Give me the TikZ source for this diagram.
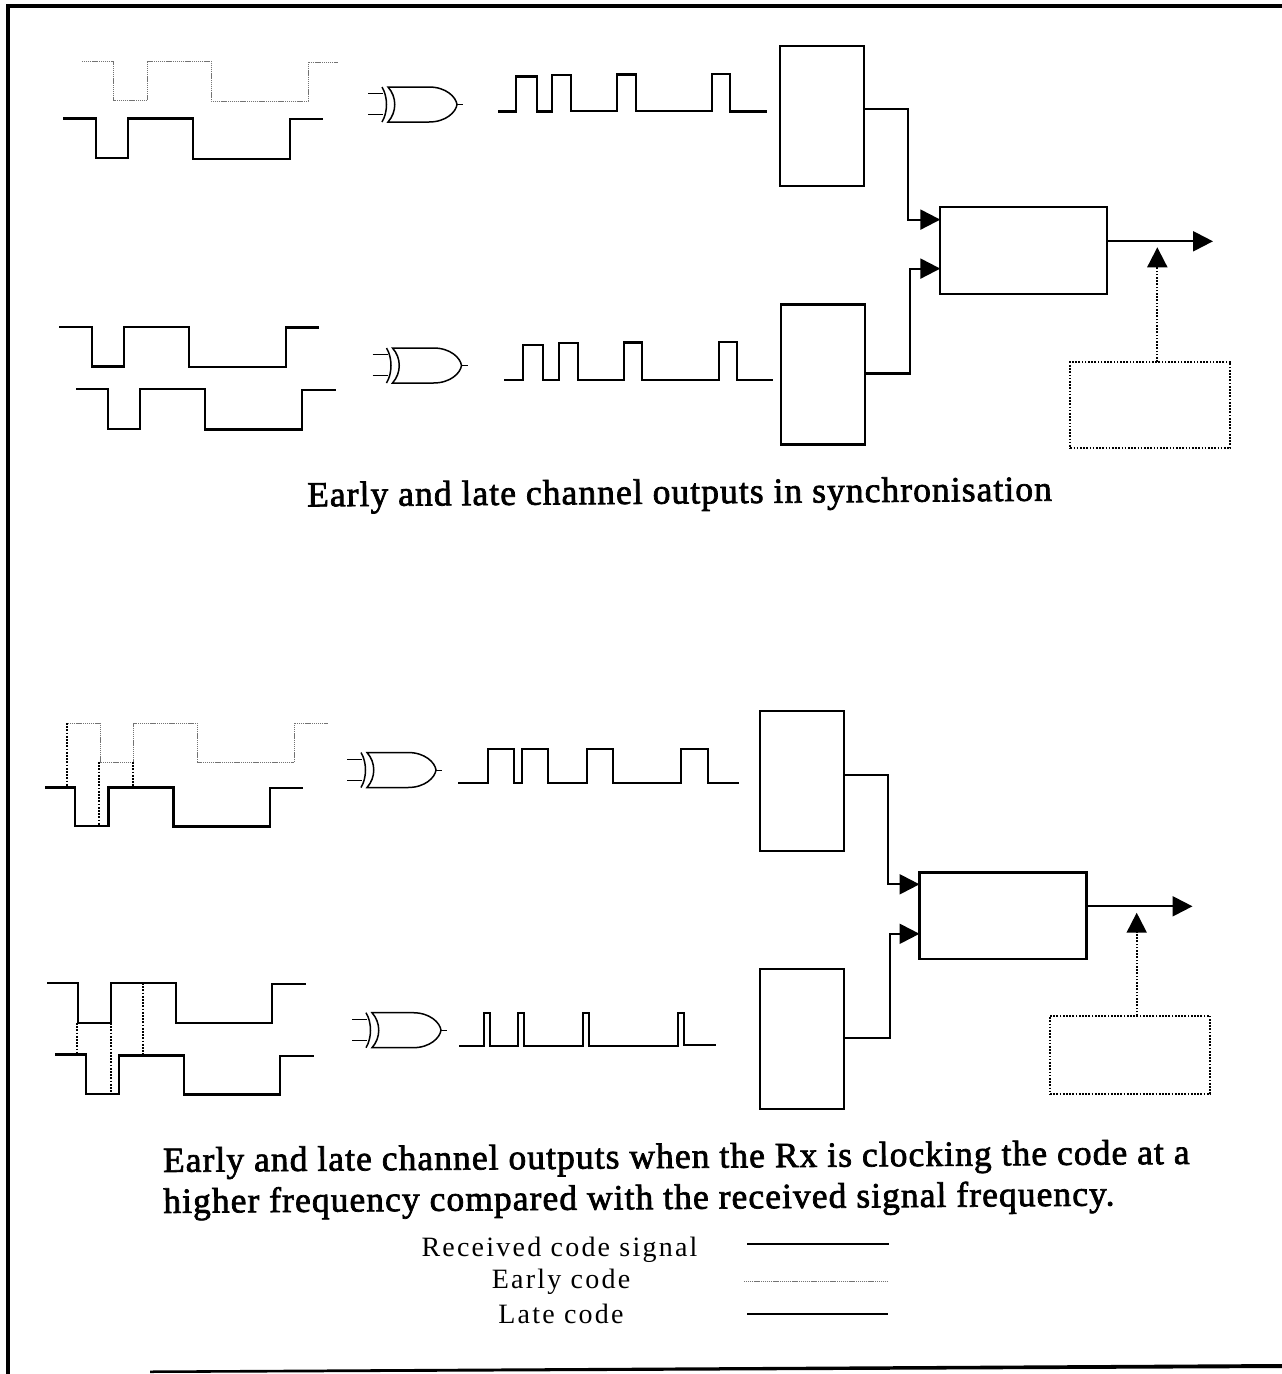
\documentclass[tikz,border=0pt]{standalone}
\usepackage{fontspec}
\setmainfont{Liberation Serif}
\newfontfamily\capfont[FakeBold=2, LetterSpace=3]{Liberation Serif}
\usetikzlibrary{positioning,arrows.meta}

\tikzset{xorgate/.pic={
  \draw[line width=1pt] (-20,6.5) -- (-5,6.5) (-20,27.5) -- (-5,27.5) (69,17.5) -- (75,17.5);
  \draw[line width=1.5pt] (-6,0) .. controls (0,10) and (0,25) .. (-6,35);
  \draw[line width=1.5pt] (0,0) .. controls (9,10) and (9,25) .. (0,35) -- (41,35)
    .. controls (58,35) and (68,25) .. (69,17.5) .. controls (68,10) and (58,0) .. (41,0) -- cycle;
}}

\begin{document}
\begin{tikzpicture}[x=1pt, y=-1pt]
  \tikzstyle{block} = [rectangle, draw, line width=2.2pt, outer sep=0pt, minimum width=84pt, minimum height=140pt]
  \tikzstyle{mixer} = [rectangle, draw, line width=2.2pt, outer sep=0pt, minimum width=167pt, minimum height=86.5pt]
  \tikzstyle{clock} = [rectangle, draw, line width=2pt, dash pattern=on 1.7pt off 1.5pt, outer sep=0pt, minimum width=160pt]
  \tikzstyle{wire} = [line width=2.2pt]
  \tikzstyle{feed} = [wire, -{Triangle[length=20pt, width=20pt]}]
  \tikzstyle{tick} = [line width=2pt, dash pattern=on 1.7pt off 1.5pt, -{Triangle[length=20pt, width=20pt]}]
  \tikzstyle{rxcode} = [line width=2.6pt]
  \tikzstyle{latecode} = [line width=2.2pt]
  \tikzstyle{earlycode} = [line width=1pt, black!55, dash pattern=on 1.2pt off 0.7pt]
  \tikzstyle{guide} = [line width=2pt, dash pattern=on 1.7pt off 1.5pt]
  \tikzstyle{pulse} = [line width=2.1pt]
  \tikzstyle{legendtext} = [inner sep=0pt, anchor=base, font=\fontsize{28}{32}\selectfont\addfontfeature{LetterSpace=8}]
  \tikzstyle{caption} = [inner sep=0pt, font=\capfont\fontsize{35.5}{41}\selectfont, rotate=0.45]

  \useasboundingbox (0,0) rectangle (1282,1374);

  % Frame
  \fill (6,4) rectangle (10,1374);
  \fill (6,4) rectangle (1282,8);
  \fill (150,1370.5) -- (1282,1364) -- (1282,1368) -- (150,1373) -- cycle;

  % Define nodes
  \node[block] (chan1) at (822,115.8) {};
  \node[block, below=118.6pt of chan1, xshift=1pt] (chan2) {};
  \node[mixer] (mix1) at (1023.8,250.6) {};
  \node[clock, minimum height=86.5pt, below=68pt of mix1, xshift=126.5pt] (clk1) {};
  \node[block] (chan3) at (801.8,780.7) {};
  \node[block, below=118.6pt of chan3] (chan4) {};
  \node[mixer] (mix2) at (1003,915.8) {};
  \node[clock, minimum height=78.5pt, below=56.6pt of mix2, xshift=127pt] (clk2) {};

  \coordinate (out1) at (1213,241.3);
  \coordinate (out2) at (1192.5,906.3);
  \coordinate (tick1) at (1157.3,247.3);
  \coordinate (tick2) at (1136.7,912.7);

  % In synchronisation
  \draw[earlycode] (82,61) -| (113,100) -| (147,61) -| (211,101) -| (308,62) -- (338,62);
  \draw[rxcode] (63,118.5) -| (96,158) -| (128,118.5) -| (193,159) -| (290,119) -- (323,119);
  \draw[latecode] (59,327) -| (92,366.5) -| (124,327) -| (189,367) -| (286,327.5) -- (319,327.5);
  \draw[rxcode] (76,389) -| (108,429) -| (140,389) -| (205,429.3) -| (302,390) -- (336,390);
  \pic at (388,87) {xorgate};
  \pic at (392.5,348) {xorgate};
  \draw[pulse] (498,111.5) -| (516,76.5) -| (537,111.5) -| (552,75) -| (571,111) -| (617,74.5) -| (636,111) -| (712,74) -| (730,111.5) -- (767,111.5);
  \draw[pulse] (504,380) -| (523,345) -| (543,380) -| (559,343) -| (578,380) -| (624,342.5) -| (642,380) -| (719,342) -| (737,380) -- (773,380);
  \draw[feed] ([yshift=7pt]chan1.east) -- ++(44,0) |- ([yshift=31pt]mix1.west);
  \draw[feed] ([yshift=1pt]chan2.east) -- ++(45,0) |- ([yshift=-18pt]mix1.west);
  \draw[feed] (mix1.east |- out1) -- (out1);
  \draw[tick] (clk1.north -| tick1) -- (tick1);

  % Rx clock too fast
  \draw[earlycode] (66,723) -| (100,762) -| (133,723) -| (197,762.5) -| (294,723.3) -- (328,723.3);
  \draw[rxcode] (45,787.3) -| (75,826) -| (108.7,787.3) -| (173.7,826.7) -| (270,788) -- (303,788);
  \draw[latecode] (47,983.3) -| (77.7,1022.7) -| (111,983.3) -| (175.7,1023.3) -| (272.3,984) -- (306,984);
  \draw[rxcode] (55,1054.7) -| (86,1094) -| (119,1055.3) -| (184,1094.3) -| (280,1056) -- (314,1056);
  \draw[guide] (66.7,723) -- (66.7,787) (99,762) -- (99,825) (133.3,762) -- (133.3,787);
  \draw[guide] (77,1023) -- (77,1052) (111.3,1023) -- (111.3,1094) (143.3,983) -- (143.3,1054);
  \pic at (367,752.5) {xorgate};
  \pic at (372,1012.7) {xorgate};
  \draw[pulse] (458,783.3) -| (487.7,749.3) -| (514,783.3) -| (521.7,749.3) -| (548.3,783.3) -| (586.7,749.3) -| (612.7,783.3) -| (681,749.3) -| (707.7,783.3) -- (739.3,783.3);
  \draw[pulse] (459.3,1045.7) -| (483.7,1013.3) -| (490,1046) -| (518.3,1013.3) -| (524,1045.7) -| (582.7,1013.3) -| (589,1045.7) -| (677.7,1013.3) -| (683.7,1045) -- (716,1045);
  \draw[feed] ([yshift=5.7pt]chan3.east) -- ++(44,0) |- ([yshift=31.5pt]mix2.west);
  \draw[feed] ([yshift=1.6pt]chan4.east) -- ++(46,0) |- ([yshift=-18pt]mix2.west);
  \draw[feed] (mix2.east |- out2) -- (out2);
  \draw[tick] (clk2.north -| tick2) -- (tick2);

  % Captions
  \node[caption, anchor=west] (cap1) at (307,498) {Early and late channel outputs in synchronisation};
  \node[caption, anchor=west, align=left] (cap2) at (163,1184) {Early and late channel outputs when the Rx is clocking the code at a\\higher frequency compared with the received signal frequency.};

  % Legend
  \node[legendtext] (lgrx) at (559.5,1256.7) {Received code signal};
  \node[legendtext] (lgearly) at (561,1288) {Early code};
  \node[legendtext] (lglate) at (561,1323) {Late code};
  \draw[line width=2pt] (747,1244.3) -- (889,1244.3);
  \draw[earlycode] (744,1281.7) -- (888,1281.7);
  \draw[line width=1.8pt] (747,1314.3) -- (888,1314.3);
\end{tikzpicture}
\end{document}
